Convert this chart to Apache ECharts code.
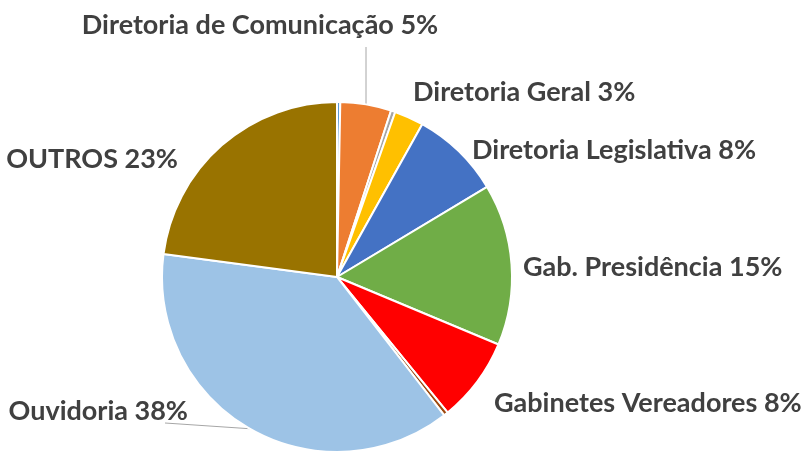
<!DOCTYPE html>
<html>
<head>
<meta charset="utf-8">
<script src="https://cdn.jsdelivr.net/npm/echarts@6/dist/echarts.min.js"></script>
<style>
html, body { margin: 0; padding: 0; background: #fff; }
#container { width: 811px; height: 452px; }
</style>
</head>
<body>
<div id="container"></div>
<script>
// fatias no sentido horário a partir do topo
var categories = ['(a)', 'Diretoria de Comunicação', '(b)', 'Diretoria Geral', 'Diretoria Legislativa',
    'Gab. Presidência', 'Gabinetes Vereadores', '(c)', 'Ouvidoria', 'OUTROS'];
var values = [0.3, 4.7, 0.4, 2.7, 8.3, 14.9, 7.8, 0.4, 37.6, 22.9];
var colors = ['#5B9BD5', '#ED7D31', '#A5A5A5', '#FFC000', '#4472C4',
    '#70AD47', '#FF0000', '#9E480E', '#9DC3E6', '#997300'];
var showLabel = [false, true, false, true, true, true, true, false, true, true];

// posição dos rótulos: [x, y, align]
var labelPos = [
    null,
    [260, 25, 'center'],
    null,
    [413, 92, 'left'],
    [472, 150, 'left'],
    [523, 267, 'left'],
    [494, 403, 'left'],
    null,
    [188, 411, 'right'],
    [178, 159, 'right']
];

var dom = document.getElementById('container');
var myChart = echarts.init(dom);

var seriesData = [];
for (var i = 0; i < categories.length; i++) {
    seriesData.push({
        name: categories[i],
        value: values[i],
        itemStyle: { color: colors[i] },
        label: { show: showLabel[i] },
        labelLine: { show: i == 1 || i == 8 }
    });
}

var option = {
    animation: false,
    series: [{
        type: 'pie',
        center: [337, 277],
        radius: 175,
        startAngle: 90,
        clockwise: true,
        avoidLabelOverlap: false,
        itemStyle: { borderColor: '#fff', borderWidth: 2 },
        label: {
            position: 'outside',
            color: '#404040',
            fontFamily: 'Lato',
            fontWeight: 'bold',
            fontSize: 27,
            formatter: function(p) {
                return p.name + ' ' + Math.round(p.percent) + '%';
            }
        },
        labelLine: {
            length: 10,
            length2: 10,
            smooth: false,
            lineStyle: { color: '#A6A6A6', width: 1 }
        },
        labelLayout: function(params) {
            var pos = labelPos[params.dataIndex];
            if (!pos) return {};
            var res = { x: pos[0], y: pos[1], align: pos[2], verticalAlign: 'middle' };
            var pts = params.labelLinePoints;
            if (pts && params.dataIndex == 1) {
                res.labelLinePoints = [pts[0], [pts[0][0], pos[1] + 22], [pts[0][0], pos[1] + 22]];
            } else if (pts && params.dataIndex == 8) {
                res.labelLinePoints = [pts[0], [pos[0] - 23, pos[1] + 12], [pos[0] - 23, pos[1] + 12]];
            }
            return res;
        },
        data: seriesData
    }]
};

myChart.setOption(option);
</script>
</body>
</html>
